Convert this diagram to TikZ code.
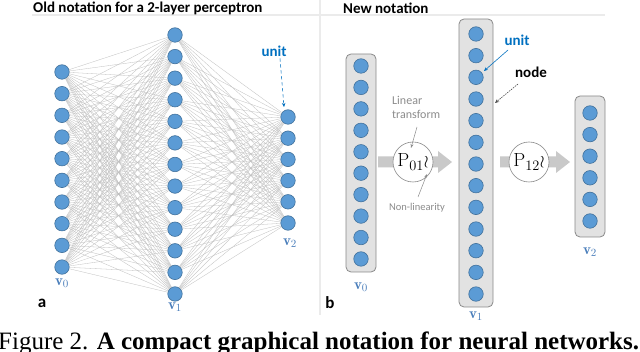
\documentclass[tikz,border=0pt]{standalone}
\usepackage{fontspec}
\newfontfamily\calfont{Carlito}
\newfontfamily\capfont{Liberation Serif}
\usetikzlibrary{arrows.meta}
\definecolor{unitblue}{HTML}{5B9BD5}
\definecolor{unitedge}{HTML}{41719C}
\definecolor{labelblue}{HTML}{0070C0}
\definecolor{vblue}{HTML}{4A7EBB}
\definecolor{boxfill}{HTML}{E2E2E2}
\definecolor{boxedge}{HTML}{8A8A8A}
\definecolor{arrowgray}{HTML}{C9C9C9}
\definecolor{rulegray}{HTML}{EBEBEB}
\definecolor{notegray}{HTML}{8C8C8C}
\begin{document}
\begin{tikzpicture}[x=1pt,y=-1pt,
  unitc/.style={circle,fill=unitblue,draw=unitedge,line width=0.6pt,minimum size=14.5pt,inner sep=0pt},
  edgeline/.style={draw=gray!50,line width=0.3pt},
  layerbox/.style={draw=boxedge,fill=boxfill,rounded corners=5pt,line width=0.8pt,inner sep=0pt},
  titletext/.style={font=\calfont\bfseries\fontsize{15}{18}\selectfont,anchor=west,inner sep=0pt},
  labtext/.style={font=\calfont\bfseries\fontsize{15}{18}\selectfont,inner sep=0pt},
  vlab/.style={text=vblue,font=\fontsize{15}{18}\selectfont,inner sep=0pt},
  notetext/.style={text=notegray,font=\calfont\fontsize{12}{14}\selectfont,inner sep=0pt},
  pcirc/.style={circle,draw=boxedge,fill=white,line width=0.6pt,minimum size=40pt,inner sep=0pt,font=\fontsize{19}{20}\selectfont},
  rulestyle/.style={draw=rulegray,line width=1.5pt},
  blockarrow/.style={fill=arrowgray},
  notearrow/.style={draw=notegray,line width=0.5pt,-{Stealth[length=4pt,width=3pt]}}
]
\clip (0,0) rectangle (640,352);
\fill[white] (0,0) rectangle (640,352);

% separators
\draw[rulestyle] (32,15) -- (320,15);
\draw[rulestyle] (321,15) -- (605,15);
\draw[rulestyle] (320,0) -- (320,315);

% titles
\node[titletext] (t1) at (33,8) {Old notation for a 2-layer perceptron};
\node[titletext] (t2) at (343,8) {New notation};

% ---------- left panel ----------
\foreach \i in {0,...,9} \node[unitc] (a0-\i) at (62,{72+21.67*\i}) {};
\foreach \i in {0,...,12} \node[unitc] (a1-\i) at (175,{35+21.58*\i}) {};
\foreach \i in {0,...,5} \node[unitc] (a2-\i) at (288,{117+21.2*\i}) {};
\foreach \i in {0,...,9} \foreach \j in {0,...,12} \draw[edgeline] (a0-\i) -- (a1-\j);
\foreach \i in {0,...,12} \foreach \j in {0,...,5} \draw[edgeline] (a1-\i) -- (a2-\j);

\node[vlab] (lv0) at (62,283) {$\mathbf{v}_0$};
\node[vlab] (lv1) at (175,307) {$\mathbf{v}_1$};
\node[vlab] (lv2) at (290,243) {$\mathbf{v}_2$};
\node[labtext,text=labelblue] (unitL) at (274,51) {unit};
\coordinate (unitLtip) at (284,107);
\draw[draw=labelblue,line width=0.6pt,dashed,-{Stealth[length=4pt,width=3.5pt]}] (unitL.south) ++(6,2) coordinate (unitLtail) -- (unitLtip);
\node[labtext,font=\calfont\bfseries\fontsize{17}{18}\selectfont] (la) at (42,303) {a};

% ---------- right panel ----------
\node[layerbox,minimum width=30pt,minimum height=218pt] (b0) at (361,163) {};
\node[layerbox,minimum width=34pt,minimum height=288pt] (b1) at (476,163) {};
\node[layerbox,minimum width=30pt,minimum height=141pt] (b2) at (590,166.5) {};
\foreach \i in {0,...,9} \node[unitc] (r0-\i) at (361,{66+21.44*\i}) {};
\foreach \i in {0,...,12} \node[unitc] (r1-\i) at (476,{34+21.67*\i}) {};
\foreach \i in {0,...,5} \node[unitc] (r2-\i) at (590,{113+21.6*\i}) {};

% block arrows
\coordinate (a01tail) at (378,162);
\coordinate (a01tip) at (452,162);
\fill[blockarrow] (a01tail) ++(0,-5.5) -- ++(60,0) -- ++(0,-5.5) -- (a01tip) -- ++(-14,11) -- ++(0,-5.5) -- ++(-60,0) -- cycle;
\coordinate (a12tail) at (500,162);
\coordinate (a12tip) at (570,162);
\fill[blockarrow] (a12tail) ++(0,-5.5) -- ++(56,0) -- ++(0,-5.5) -- (a12tip) -- ++(-14,11) -- ++(0,-5.5) -- ++(-56,0) -- cycle;

\node[pcirc] (p01) at (413,162) {$\mathrm{P}_{01}\wr$};
\node[pcirc] (p12) at (529,162) {$\mathrm{P}_{12}\wr$};

% annotations
\node[notetext,anchor=north west,align=left] (lin) at (392,96) {Linear\\transform};
\coordinate (linA) at (417,127);
\coordinate (linB) at (411,148);
\draw[notearrow] (linA) -- (linB);
\node[notetext,font=\calfont\fontsize{10.5}{12}\selectfont] (nonlin) at (417,208) {Non-linearity};
\coordinate (nlA) at (418,197);
\coordinate (nlB) at (427,174);
\draw[notearrow] (nlA) -- (nlB);

\node[labtext,text=labelblue] (unitR) at (517,40) {unit};
\coordinate (unitRtail) at (508,50);
\coordinate (unitRtip) at (484,71);
\draw[draw=labelblue,line width=0.6pt,-{Stealth[length=4pt,width=3.5pt]}] (unitRtail) -- (unitRtip);
\node[labtext] (nodeR) at (531,72) {node};
\coordinate (nodeRtail) at (518,84);
\coordinate (nodeRtip) at (495,103);
\draw[draw=black!70,line width=0.6pt,dash pattern=on 1.5pt off 1pt,-{Stealth[length=4pt,width=3.5pt]}] (nodeRtail) -- (nodeRtip);

\node[vlab] (rv0) at (361,287) {$\mathbf{v}_0$};
\node[vlab] (rv1) at (476,316) {$\mathbf{v}_1$};
\node[vlab] (rv2) at (590,252) {$\mathbf{v}_2$};
\node[labtext,font=\calfont\bfseries\fontsize{17}{18}\selectfont] (lb) at (330,303) {b};

% caption
\node[anchor=base west,inner sep=0pt,font=\capfont\fontsize{25}{30}\selectfont] (cap) at (-2,350) {Figure 2. \textbf{A compact graphical notation for neural networks.}};
\end{tikzpicture}
\end{document}
